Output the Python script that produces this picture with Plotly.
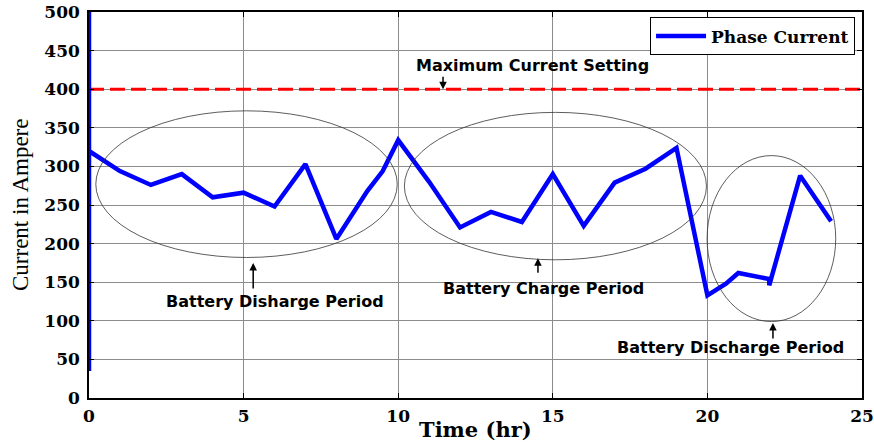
import plotly.graph_objects as go

# ---- data ----
time_hr = [0, 0, 0, 1, 2, 3, 4, 5, 6, 7, 8, 9, 9.5, 10, 11, 12, 13, 14, 15, 16,
           17, 18, 19, 20, 20.6, 21, 22, 22, 23, 24]
phase_current = [35, 500, 320, 294, 276, 290, 260, 266, 248, 303, 206, 268, 294, 334,
                 280, 221, 241, 228, 290, 223, 279, 297, 324, 133, 148, 162, 154, 146,
                 288, 229]

max_setting_x = [0, 25]
max_setting_y = [400, 400]

x_ticks = [0, 5, 10, 15, 20, 25]
y_ticks = [0, 50, 100, 150, 200, 250, 300, 350, 400, 450, 500]

# ellipses (x0, x1, y0, y1) in data units
ellipses = [
    (0.22, 9.97, 182, 372),
    (10.2, 19.97, 179, 370),
    (19.99, 24.15, 99, 314),
]

# text labels (text, x, y)
labels = [
    ("Maximum Current Setting", 14.34, 431),
    ("Battery Disharge Period", 6.0, 125),
    ("Battery Charge Period", 14.71, 142),
    ("Battery Discharge Period", 20.76, 65),
]
# arrows (tip x, tip y, tail offset px)
arrows = [
    (11.45, 400, -14),
    (5.31, 175, 27),
    (14.52, 181, 16),
    (22.12, 97, 17),
]

fig = go.Figure()

fig.add_trace(go.Scatter(
    x=max_setting_x, y=max_setting_y, mode="lines",
    line=dict(color="#ff0000", width=3, dash="15px,6px"),
    showlegend=False, hoverinfo="skip",
))

fig.add_trace(go.Scatter(
    x=time_hr, y=phase_current, mode="lines", name="Phase Current",
    line=dict(color="#0000ff", width=4.5),
))

for (x0, x1, y0, y1) in ellipses:
    fig.add_shape(type="circle", xref="x", yref="y", x0=x0, x1=x1, y0=y0, y1=y1,
                  line=dict(color="#333333", width=0.8), layer="above")

for (t, x, y) in labels:
    fig.add_annotation(x=x, y=y, xref="x", yref="y", text=t, showarrow=False,
                       font=dict(family="DejaVu Sans", size=16, color="black", weight="bold"),
                       xanchor="center", yanchor="middle")

for (x, y, ay) in arrows:
    fig.add_annotation(x=x, y=y, xref="x", yref="y", text="", showarrow=True,
                       ax=0, ay=ay, arrowhead=2, arrowsize=1, arrowwidth=1.5,
                       arrowcolor="black")

# axis titles placed in paper space
fig.add_annotation(x=0.5, y=0, xref="paper", yref="paper", yshift=-31,
                   text="<b>Time (hr)</b>", showarrow=False, xanchor="center", yanchor="middle",
                   font=dict(family="DejaVu Serif", size=21, color="black"))
fig.add_annotation(x=0, y=0.5, xref="paper", yref="paper", xshift=-69,
                   text="Current in Ampere", showarrow=False, textangle=-90,
                   xanchor="center", yanchor="middle",
                   font=dict(family="Liberation Serif", size=23, color="black"))

axis_common = dict(
    showline=True, linecolor="black", linewidth=1.5, mirror="ticks",
    ticks="inside", ticklen=5, tickcolor="black", automargin=False,
    showgrid=True, gridcolor="#8c8c8c", gridwidth=1, zeroline=False,
    tickfont=dict(family="DejaVu Serif", size=17, color="black", weight="bold"),
)

fig.update_xaxes(range=[0, 25], tickvals=x_ticks, ticktext=[str(v) for v in x_ticks],
                 ticklabelstandoff=2, **axis_common)
fig.update_yaxes(range=[0, 500], tickvals=y_ticks, ticktext=[str(v) for v in y_ticks],
                 ticklabelstandoff=4, **axis_common)

fig.update_layout(
    width=874, height=442,
    margin=dict(l=89, r=12, t=12, b=44),
    plot_bgcolor="white", paper_bgcolor="white",
    legend=dict(x=0.991, y=0.986, xanchor="right", yanchor="top",
                bordercolor="black", borderwidth=1, bgcolor="white",
                itemwidth=50,
                font=dict(family="DejaVu Serif", size=17, color="black", weight="bold")),
)

fig.write_html("out.html", config={"displayModeBar": False},
               post_script="document.body.style.margin='0';document.body.style.overflow='hidden';")
